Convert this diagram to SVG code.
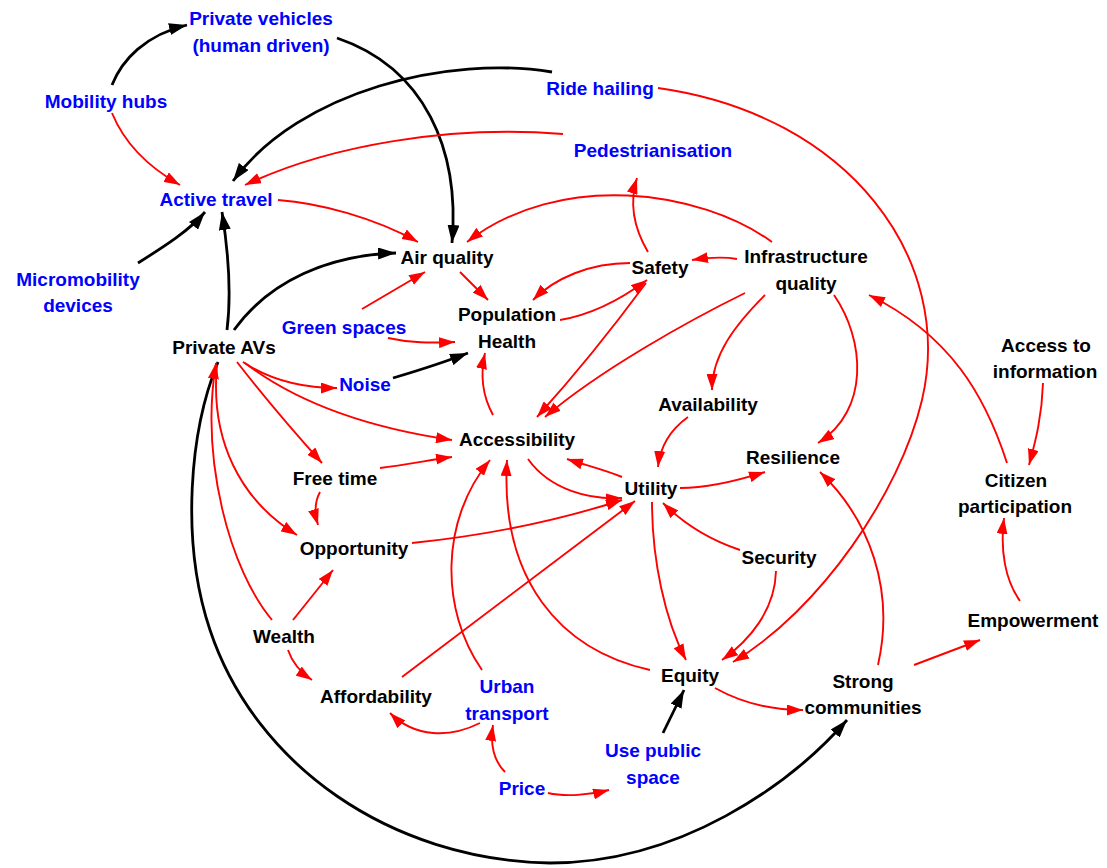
<svg xmlns="http://www.w3.org/2000/svg" width="1107" height="868" viewBox="0 0 1107 868">
  <style>
    text { font-family: "Liberation Sans", Arial, sans-serif; font-weight: bold; font-size: 19px; text-anchor: middle; }
    .blk { fill: #000000; }
    .blu { fill: #0000FF; }
    .r { fill: none; stroke: #FF0000; stroke-width: 1.9; marker-end: url(#ar); }
    .b { fill: none; stroke: #000000; stroke-width: 2.8; marker-end: url(#ab); }
  </style>
  <defs>
    <marker id="ar" markerUnits="userSpaceOnUse" markerWidth="16" markerHeight="11" refX="16" refY="5.5" orient="auto">
      <path d="M0,0 L16,5.5 L0,11 z" fill="#FF0000"/>
    </marker>
    <marker id="ab" markerUnits="userSpaceOnUse" markerWidth="18" markerHeight="12" refX="18" refY="6" orient="auto">
      <path d="M0,0 L18,6 L0,12 z" fill="#000000"/>
    </marker>
  </defs>
  <rect width="1107" height="868" fill="#FFFFFF"/>

  <g id="connectors">
    <!-- black links -->
    <path class="b" d="M112,85 C122,60 145,35 187,25"/>
    <path class="b" d="M337,38 C425,68 460,150 452,243"/>
    <path class="b" d="M552,72 C450,55 300,90 233,181"/>
    <path class="b" d="M138,263 C165,246 190,230 205,212"/>
    <path class="b" d="M227,330 C232,290 228,250 222,212"/>
    <path class="b" d="M234,330 C270,280 330,255 396,253"/>
    <path class="b" d="M393,378 C420,370 445,362 468,353"/>
    <path class="b" d="M218,362 C190,430 180,540 210,630 C255,765 390,860 550,863 C680,863 790,785 847,720"/>
    <path class="b" d="M663,733 L684,690"/>

    <!-- red links -->
    <path class="r" d="M112,113 C125,145 150,168 180,185"/>
    <path class="r" d="M563,134 C450,125 330,145 245,185"/>
    <path class="r" d="M278,200 C320,203 375,218 418,242"/>
    <path class="r" d="M772,242 C700,190 560,170 467,242"/>
    <path class="r" d="M648,252 C632,225 630,200 637,178"/>
    <path class="r" d="M737,259 C720,256 705,258 692,260"/>
    <path class="r" d="M630,263 C590,263 555,278 533,300"/>
    <path class="r" d="M560,320 C590,315 620,300 647,280"/>
    <path class="r" d="M460,272 L488,300"/>
    <path class="r" d="M362,309 L425,272"/>
    <path class="r" d="M388,338 C410,343 430,343 455,342"/>
    <path class="r" d="M646,283 C615,325 575,375 537,417"/>
    <path class="r" d="M745,293 C690,320 600,370 545,417"/>
    <path class="r" d="M765,295 C735,325 712,355 712,390"/>
    <path class="r" d="M834,295 C865,340 870,410 818,443"/>
    <path class="r" d="M1007,463 C985,395 950,335 869,295"/>
    <path class="r" d="M1043,383 C1042,415 1036,440 1029,465"/>
    <path class="r" d="M1020,601 C1005,580 1000,550 1004,518"/>
    <path class="r" d="M658,88 C850,115 955,260 922,400 C900,493 820,610 733,662"/>
    <path class="r" d="M243,362 C270,380 300,388 337,388"/>
    <path class="r" d="M245,363 C300,405 370,428 452,440"/>
    <path class="r" d="M237,362 C265,398 295,433 322,463"/>
    <path class="r" d="M217,365 C210,440 240,500 297,535"/>
    <path class="r" d="M272,620 C230,570 200,460 216,363"/>
    <path class="r" d="M320,492 C314,503 315,515 318,525"/>
    <path class="r" d="M380,468 C405,465 430,460 452,457"/>
    <path class="r" d="M293,620 L333,570"/>
    <path class="r" d="M288,650 C292,662 300,672 312,680"/>
    <path class="r" d="M402,677 L635,501"/>
    <path class="r" d="M480,723 C450,738 415,738 390,713"/>
    <path class="r" d="M505,772 C493,760 490,745 493,725"/>
    <path class="r" d="M548,793 C565,797 590,795 609,790"/>
    <path class="r" d="M482,670 C440,610 440,520 490,460"/>
    <path class="r" d="M650,670 C560,650 500,580 507,460"/>
    <path class="r" d="M528,459 C550,490 590,500 622,498"/>
    <path class="r" d="M622,477 C605,470 585,465 567,459"/>
    <path class="r" d="M412,543 C490,535 560,520 622,500"/>
    <path class="r" d="M688,417 C670,430 660,448 658,467"/>
    <path class="r" d="M680,488 C710,488 740,480 765,472"/>
    <path class="r" d="M740,550 C710,540 685,525 663,503"/>
    <path class="r" d="M652,502 C652,560 665,620 686,660"/>
    <path class="r" d="M776,571 C775,610 750,640 722,660"/>
    <path class="r" d="M878,665 C895,590 870,520 820,472"/>
    <path class="r" d="M715,688 C740,702 770,710 803,710"/>
    <path class="r" d="M914,665 L980,640"/>
    <path class="r" d="M493,415 C482,395 480,375 485,353"/>
  </g>

  <g id="n-private-vehicles"><text class="blu" x="261" y="25">Private vehicles</text><text class="blu" x="261" y="52">(human driven)</text></g>
  <g id="n-mobility-hubs"><text class="blu" x="106" y="108">Mobility hubs</text></g>
  <g id="n-ride-hailing"><text class="blu" x="600" y="95">Ride hailing</text></g>
  <g id="n-pedestrianisation"><text class="blu" x="653" y="157">Pedestrianisation</text></g>
  <g id="n-active-travel"><text class="blu" x="216" y="206">Active travel</text></g>
  <g id="n-micromobility"><text class="blu" x="78" y="286">Micromobility</text><text class="blu" x="78" y="312">devices</text></g>
  <g id="n-air-quality"><text class="blk" x="447" y="264">Air quality</text></g>
  <g id="n-safety"><text class="blk" x="660" y="274">Safety</text></g>
  <g id="n-infrastructure"><text class="blk" x="806" y="263">Infrastructure</text><text class="blk" x="806" y="290">quality</text></g>
  <g id="n-population-health"><text class="blk" x="507" y="321">Population</text><text class="blk" x="507" y="348">Health</text></g>
  <g id="n-green-spaces"><text class="blu" x="344" y="334">Green spaces</text></g>
  <g id="n-private-avs"><text class="blk" x="224" y="354">Private AVs</text></g>
  <g id="n-noise"><text class="blu" x="365" y="391">Noise</text></g>
  <g id="n-access-info"><text class="blk" x="1046" y="352">Access to</text><text class="blk" x="1045" y="378">information</text></g>
  <g id="n-availability"><text class="blk" x="708" y="411">Availability</text></g>
  <g id="n-accessibility"><text class="blk" x="517" y="446">Accessibility</text></g>
  <g id="n-resilience"><text class="blk" x="793" y="464">Resilience</text></g>
  <g id="n-free-time"><text class="blk" x="335" y="485">Free time</text></g>
  <g id="n-citizen"><text class="blk" x="1016" y="487">Citizen</text><text class="blk" x="1015" y="513">participation</text></g>
  <g id="n-utility"><text class="blk" x="651" y="495">Utility</text></g>
  <g id="n-opportunity"><text class="blk" x="354" y="555">Opportunity</text></g>
  <g id="n-security"><text class="blk" x="779" y="564">Security</text></g>
  <g id="n-empowerment"><text class="blk" x="1033" y="627">Empowerment</text></g>
  <g id="n-wealth"><text class="blk" x="284" y="643">Wealth</text></g>
  <g id="n-equity"><text class="blk" x="690" y="682">Equity</text></g>
  <g id="n-strong-communities"><text class="blk" x="863" y="688">Strong</text><text class="blk" x="863" y="714">communities</text></g>
  <g id="n-affordability"><text class="blk" x="376" y="703">Affordability</text></g>
  <g id="n-urban-transport"><text class="blu" x="507" y="693">Urban</text><text class="blu" x="507" y="720">transport</text></g>
  <g id="n-use-public-space"><text class="blu" x="653" y="757">Use public</text><text class="blu" x="653" y="784">space</text></g>
  <g id="n-price"><text class="blu" x="522" y="795">Price</text></g>
</svg>
